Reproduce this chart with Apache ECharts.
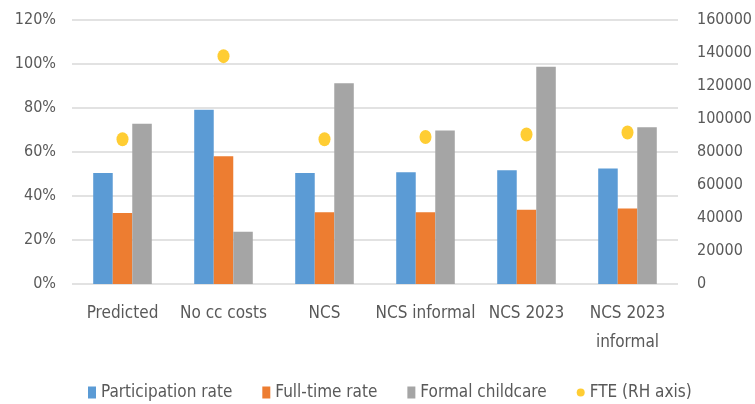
<!DOCTYPE html>
<html>
<head>
<meta charset="utf-8">
<script src="https://cdn.jsdelivr.net/npm/echarts@6/dist/echarts.min.js"></script>
<style>
  html, body { margin: 0; padding: 0; background: #fff; }
  #chart { width: 755px; height: 404px; }
</style>
</head>
<body>
<div id="chart"></div>
<script>
var categories = ["Predicted", "No cc costs", "NCS", "NCS informal", "NCS 2023", "NCS 2023\ninformal"];
var participation = [0.505, 0.792, 0.505, 0.508, 0.517, 0.525];
var fullTime = [0.323, 0.581, 0.326, 0.326, 0.338, 0.343];
var formalChildcare = [0.728, 0.238, 0.912, 0.698, 0.988, 0.712];
var fte = [87700, 138100, 87700, 89100, 90600, 91800];

var font = "'Liberation Sans Narrow', 'DejaVu Sans Condensed', 'Noto Sans', sans-serif";
var textColor = "#595959";

var chart = echarts.init(document.getElementById("chart"));
chart.setOption({
  animation: false,
  textStyle: { fontFamily: font },
  grid: { left: 72, right: 77, top: 20, bottom: 120 },
  legend: {
    top: 384,
    left: 88,
    padding: 0,
    itemGap: 30,
    itemWidth: 8,
    itemHeight: 12,
    textStyle: { fontFamily: font, fontSize: 17, color: textColor },
    data: [
      { name: "Participation rate", icon: "rect" },
      { name: "Full-time rate", icon: "rect" },
      { name: "Formal childcare", icon: "rect" },
      { name: "FTE (RH axis)", icon: "circle" }
    ]
  },
  xAxis: {
    type: "category",
    data: categories,
    axisLine: { show: false },
    axisTick: { show: false },
    axisLabel: { fontFamily: font, fontSize: 17, color: textColor, margin: 15, lineHeight: 29, interval: 0 }
  },
  yAxis: [
    {
      type: "value",
      min: 0,
      max: 1.2,
      interval: 0.2,
      axisLine: { show: false },
      axisTick: { show: false },
      splitLine: { lineStyle: { color: "#D9D9D9", width: 1.5 } },
      axisLabel: {
        fontFamily: font, fontSize: 16, color: textColor, margin: 16,
        formatter: function (v) { return Math.round(v * 100) + "%"; }
      }
    },
    {
      type: "value",
      min: 0,
      max: 160000,
      interval: 20000,
      axisLine: { show: false },
      axisTick: { show: false },
      splitLine: { show: false },
      axisLabel: {
        fontFamily: font, fontSize: 16, color: textColor, margin: 19,
        formatter: function (v) { return String(v); }
      }
    }
  ],
  series: [
    {
      name: "Participation rate",
      type: "bar",
      data: participation,
      barGap: "0%",
      barCategoryGap: "42%",
      itemStyle: { color: "#5B9BD5" }
    },
    {
      name: "Full-time rate",
      type: "bar",
      data: fullTime,
      itemStyle: { color: "#ED7D31" }
    },
    {
      name: "Formal childcare",
      type: "bar",
      data: formalChildcare,
      itemStyle: { color: "#A5A5A5" }
    },
    {
      name: "FTE (RH axis)",
      type: "scatter",
      yAxisIndex: 1,
      data: fte,
      symbol: "circle",
      symbolSize: [12, 14],
      itemStyle: { color: "#FFC000" }
    }
  ]
});
</script>
</body>
</html>
